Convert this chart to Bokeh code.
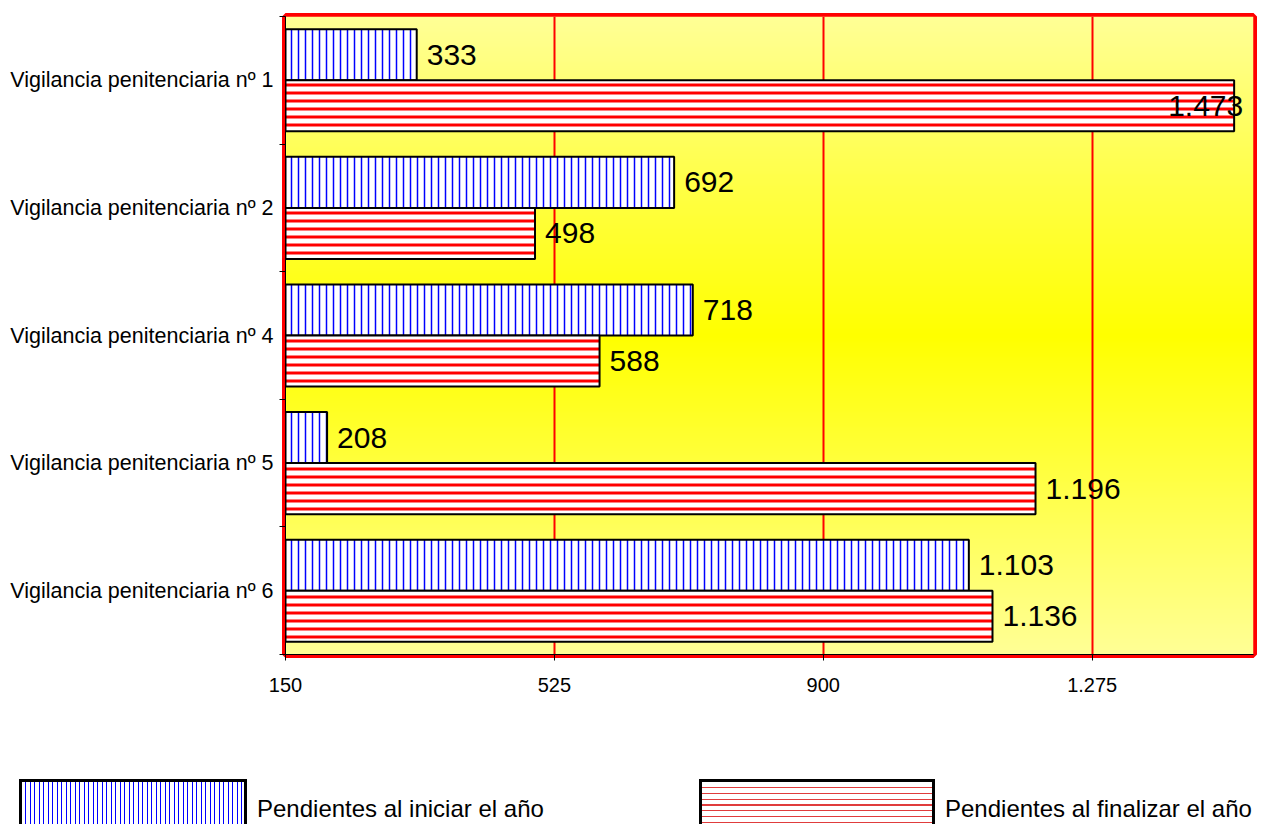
import numpy as np
from bokeh.plotting import figure
from bokeh.models import ColumnDataSource, Range1d, FixedTicker, LabelSet, Div
from bokeh.core.properties import value
from bokeh.layouts import column
from bokeh.embed import file_html
from bokeh.resources import INLINE

# ---- data ----
categories = ["Vigilancia penitenciaria nº 1", "Vigilancia penitenciaria nº 2",
              "Vigilancia penitenciaria nº 4", "Vigilancia penitenciaria nº 5",
              "Vigilancia penitenciaria nº 6"]
pend_inicio = [333, 692, 718, 208, 1103]
pend_final = [1473, 498, 588, 1196, 1136]
series_names = ["Pendientes al iniciar el año", "Pendientes al finalizar el año"]
x_ticks = [150, 525, 900, 1275]
x_tick_labels = ["150", "525", "900", "1.275"]
x_min, x_max = 150, 1500

FONT = "Liberation Sans"

def fmt(v):
    return f"{v:,}".replace(",", ".")

n = len(categories)
centers = [n - 0.5 - i for i in range(n)]
bounds = [float(i) for i in range(n + 1)]

src_a = ColumnDataSource(dict(y=[c + 0.2 for c in centers], left=[x_min] * n,
                              right=pend_inicio,
                              txt=[fmt(v) for v in pend_inicio],
                              dx=[10] * n))
src_b = ColumnDataSource(dict(y=[c - 0.2 for c in centers], left=[x_min] * n,
                              right=pend_final,
                              txt=[fmt(v) for v in pend_final],
                              dx=[10 if v < 1400 else -66 for v in pend_final]))

W = 1279
H1, H2 = 700, 124
p = figure(width=W, height=H1, output_backend="svg", toolbar_location=None,
           x_range=Range1d(x_min, x_max), y_range=Range1d(0, n),
           min_border_left=285, min_border_right=26, min_border_top=16,
           min_border_bottom=46)
p.background_fill_color = "white"
p.border_fill_color = "white"
p.outline_line_color = "#FF0000"
p.outline_line_width = 7

# gradient background
N = 256
t = np.linspace(0, 1, N)
g = np.abs(t - 0.5) * 2  # 1 at edges, 0 at middle
img = np.empty((N, 1), dtype=np.uint32)
view = img.view(dtype=np.uint8).reshape((N, 1, 4))
view[:, 0, 0] = 255
view[:, 0, 1] = 255
view[:, 0, 2] = (g * 150).astype(np.uint8)
view[:, 0, 3] = 255
p.image_rgba(image=[img], x=x_min, y=0, dw=x_max - x_min, dh=n, level="image")

# bars
p.hbar(y="y", left="left", right="right", height=0.4, source=src_a,
       fill_color="white", hatch_pattern="vertical_line", hatch_color="#0000FF",
       hatch_scale=7, hatch_weight=1.5, line_color="black", line_width=2)
p.hbar(y="y", left="left", right="right", height=0.4, source=src_b,
       fill_color="white", hatch_pattern="horizontal_line", hatch_color="#FF0000",
       hatch_scale=8, hatch_weight=3, line_color="black", line_width=2)

# value labels
for s in (src_a, src_b):
    p.add_layout(LabelSet(x="right", y="y", text="txt", source=s, x_offset="dx",
                          text_baseline="middle", text_align="left",
                          text_font=value(FONT), text_font_size=value("30px"),
                          text_color="black"))

# axes
p.xaxis.ticker = FixedTicker(ticks=x_ticks)
p.xaxis.major_label_overrides = {k: v for k, v in zip(x_ticks, x_tick_labels)}
p.xaxis.major_label_text_font = FONT
p.xaxis.major_label_text_font_size = "20px"
p.xaxis.major_label_text_color = "black"
p.xaxis.major_tick_out = 6
p.xaxis.major_tick_in = 0
p.xaxis.major_label_standoff = 17
p.xaxis.axis_line_color = "black"

p.yaxis.ticker = FixedTicker(ticks=centers, minor_ticks=bounds)
p.yaxis.major_label_overrides = {c: name for c, name in zip(centers, categories)}
p.yaxis.major_label_text_font = FONT
p.yaxis.major_label_text_font_size = "21.5px"
p.yaxis.major_label_text_color = "black"
p.yaxis.major_tick_out = 0
p.yaxis.major_tick_in = 0
p.yaxis.minor_tick_out = 6
p.yaxis.minor_tick_in = 0
p.yaxis.minor_tick_line_color = "black"
p.yaxis.major_label_standoff = 6
p.yaxis.axis_line_color = "black"

p.xgrid.ticker = FixedTicker(ticks=x_ticks)
p.xgrid.grid_line_color = "#FF0000"
p.xgrid.grid_line_width = 2
p.ygrid.grid_line_color = None

# ---- legend strip (HTML) ----
box_css = ("position:absolute;top:74px;height:60px;box-sizing:border-box;"
           "border:3px solid #000;")
txt_css = (f"position:absolute;top:92px;font-family:'{FONT}',Arial,sans-serif;"
           "font-size:24px;line-height:24px;color:#000;white-space:nowrap;")
legend_html = (
    f'<div style="position:relative;width:{W}px;height:{H2}px;overflow:hidden;">'
    f'<div style="{box_css}left:14px;width:228px;'
    'background:repeating-linear-gradient(to right,#fff 0px,#fff 3.4px,#0000FF 3.4px,#0000FF 4.5px);"></div>'
    f'<div style="{txt_css}left:252px;">{series_names[0]}</div>'
    f'<div style="{box_css}left:694px;width:236px;'
    'background:repeating-linear-gradient(to bottom,#fff 0px,#fff 4.8px,#E03C3C 4.8px,#E03C3C 5.9px);"></div>'
    f'<div style="{txt_css}left:940px;">{series_names[1]}</div>'
    '</div>'
)
legend_div = Div(text=legend_html, width=W, height=H2, styles={"overflow": "hidden"})

open("out.html", "w").write(file_html(column(p, legend_div, spacing=0), INLINE))
